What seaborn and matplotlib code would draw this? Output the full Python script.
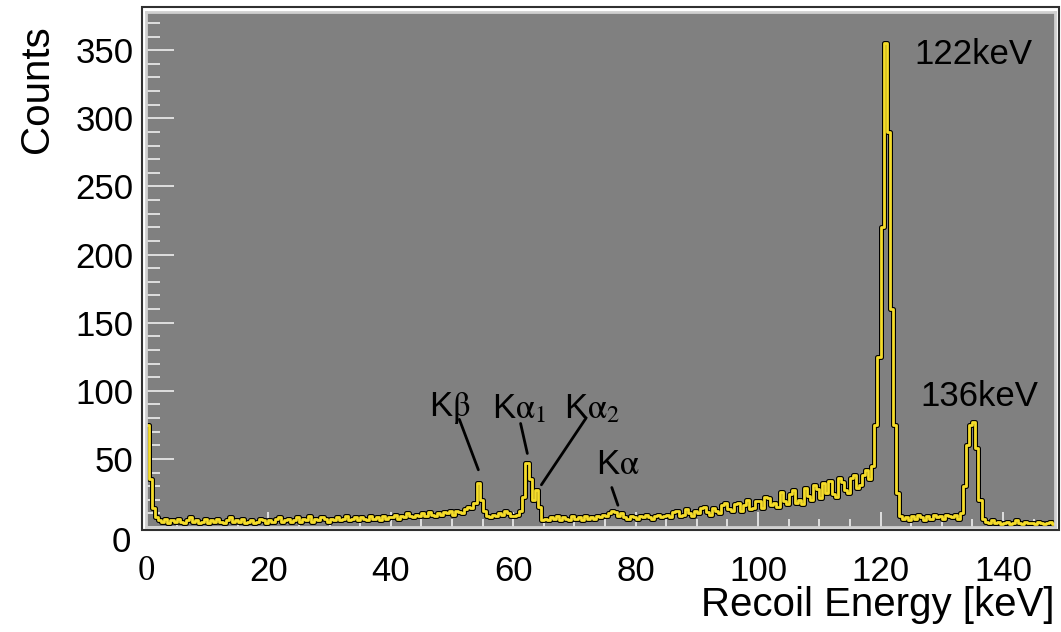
import numpy as np
import pandas as pd
import matplotlib
matplotlib.use("Agg")
import matplotlib.pyplot as plt
from matplotlib.patches import Rectangle
from matplotlib.ticker import MultipleLocator, FuncFormatter
import seaborn as sns

sns.set_style("ticks")
plt.rcParams['font.family'] = ['Liberation Sans', 'DejaVu Sans']
plt.rcParams['mathtext.fontset'] = 'stix'

# spectrum, 0.5 keV bins from 0 to 148.5 keV
bin_width = 0.5
counts = [
    75, 35, 14, 7, 5, 4, 6, 3, 5, 4,          # 0-5
    6, 4, 3, 5, 7, 4, 5, 3, 4, 6,             # 5-10
    3, 5, 4, 6, 4, 3, 5, 7, 4, 5,             # 10-15
    4, 6, 3, 4, 5, 3, 4, 6, 5, 3,             # 15-20
    5, 4, 6, 7, 4, 5, 6, 4, 5, 7,             # 20-25
    4, 6, 5, 8, 4, 6, 5, 7, 6, 4,             # 25-30
    6, 5, 7, 5, 6, 8, 5, 6, 7, 5,             # 30-35
    7, 6, 5, 8, 6, 7, 5, 8, 6, 7,             # 35-40
    7, 9, 6, 8, 7, 10, 8, 7, 9, 8,            # 40-45
    10, 8, 11, 9, 8, 10, 9, 11, 10, 12,       # 45-50
    9, 12, 11, 10, 13, 15, 14, 18, 32, 20,    # 50-55
    12, 8, 7, 9, 8, 10, 9, 12, 10, 8,         # 55-60
    8, 9, 12, 22, 47, 35, 20, 27, 15, 5,      # 60-65
    6, 5, 7, 6, 8, 5, 7, 6, 5, 8,             # 65-70
    6, 7, 5, 8, 6, 7, 6, 8, 7, 9,             # 70-75
    8, 10, 12, 11, 8, 10, 7, 6, 8, 7,         # 75-80
    6, 8, 7, 9, 7, 6, 8, 9, 7, 8,             # 80-85
    9, 7, 11, 12, 8, 9, 13, 10, 8, 12,        # 85-90
    10, 14, 15, 11, 9, 14, 12, 10, 16, 18,    # 90-95
    13, 12, 17, 18, 12, 16, 20, 13, 14, 19,   # 95-100
    19, 14, 22, 21, 16, 18, 15, 26, 19, 17,   # 100-105
    24, 27, 18, 20, 17, 29, 23, 20, 31, 28,   # 105-110
    21, 32, 25, 34, 24, 22, 36, 33, 27, 25,   # 110-115
    36, 38, 29, 31, 38, 42, 35, 45, 75, 125,  # 115-120
    220, 355, 290, 160, 75, 25, 8, 6, 7, 5,   # 120-125
    8, 6, 9, 7, 5, 8, 6, 9, 7, 8,             # 125-130
    6, 9, 8, 7, 9, 6, 10, 30, 60, 75,         # 130-135
    77, 58, 20, 6, 4, 3, 5, 3, 4, 2,          # 135-140
    3, 4, 2, 3, 5, 3, 2, 4, 3, 3,             # 140-145
    2, 4, 3, 2, 3, 4, 2,                      # 145-148.5
]
e_max = bin_width * len(counts)
spectrum = pd.DataFrame({'energy': np.arange(len(counts)) * bin_width + bin_width / 2,
                         'counts': counts})

# peak labels: text, text position, pointer line (x0, y0, x1, y1)
peak_labels = [r'K$\mathrm{\beta}$', r'K$\mathrm{\alpha}_{1}$',
               r'K$\mathrm{\alpha}_{2}$', r'K$\mathrm{\alpha}$']
peak_label_pos = [(49.7, 87), (61.0, 87), (72.9, 87), (77.0, 46)]
peak_lines = [(51.2, 79, 54.3, 42), (61.2, 76, 62.3, 54),
              (71.9, 80, 64.6, 31), (76.1, 29, 77.1, 16)]
energy_labels = ['122keV', '136keV']
energy_label_pos = [(135.2, 347), (136.2, 96)]

fig = plt.figure(figsize=(10.61, 6.32), dpi=100)
ax = fig.add_axes([0.1376, 0.1661, 0.8567, 0.8149])
ax.set_facecolor('#808080')

for col, lw in [('black', 3.6), ('#f5dc2a', 2.0)]:
    sns.histplot(data=spectrum, x='energy', weights='counts',
                 binwidth=bin_width, binrange=(0, e_max),
                 element='step', fill=False, color=col, linewidth=lw, ax=ax)

ax.set_xlim(0, e_max)
ax.set_ylim(0, 378)

# zero labels are drawn separately, ROOT style
no_zero = FuncFormatter(lambda v, p: '' if v == 0 else f'{v:g}')
ax.xaxis.set_major_locator(MultipleLocator(20))
ax.xaxis.set_minor_locator(MultipleLocator(5))
ax.yaxis.set_major_locator(MultipleLocator(50))
ax.yaxis.set_minor_locator(MultipleLocator(10))
ax.xaxis.set_major_formatter(no_zero)
ax.yaxis.set_major_formatter(no_zero)
ax.tick_params(axis='y', which='major', direction='in', length=20, width=1.3,
               color='#e6e6e6', labelsize=25, labelcolor='black', pad=9)
ax.tick_params(axis='y', which='minor', direction='in', length=10, width=1.3,
               color='#e6e6e6')
ax.tick_params(axis='x', which='major', direction='in', length=11, width=1.3,
               color='#e6e6e6', labelsize=25, labelcolor='black', pad=20)
ax.tick_params(axis='x', which='minor', direction='in', length=6, width=1.3,
               color='#e6e6e6')

ax.text(0, -0.054, '0', transform=ax.get_xaxis_transform(), ha='center',
        va='top', fontsize=25, family='Liberation Serif', color='black')
ax.text(-0.017, -0.03, '0', transform=ax.transAxes, ha='right', va='center',
        fontsize=25, color='black')

ax.set_ylabel('Counts', fontsize=29, loc='top', color='black')
ax.yaxis.set_label_coords(-0.099, 0.975)
ax.set_xlabel('Recoil Energy [keV]', fontsize=29, loc='right', color='black')
ax.xaxis.set_label_coords(1.0, -0.115)

for sp in ax.spines.values():
    sp.set_color('#d0d0d0')
    sp.set_linewidth(2)
ax.add_patch(Rectangle((-0.004, -0.006), 1.008, 1.016, transform=ax.transAxes,
                       fill=False, edgecolor='#303030', linewidth=1.5,
                       clip_on=False))

for lab, (tx, ty), (x0, y0, x1, y1) in zip(peak_labels, peak_label_pos, peak_lines):
    ax.text(tx, ty, lab, fontsize=25, ha='center', va='center', color='black')
    ax.plot([x0, x1], [y0, y1], color='black', linewidth=2)
for lab, (tx, ty) in zip(energy_labels, energy_label_pos):
    ax.text(tx, ty, lab, fontsize=25, ha='center', va='center', color='black')

fig.savefig('out.png', dpi=100)
